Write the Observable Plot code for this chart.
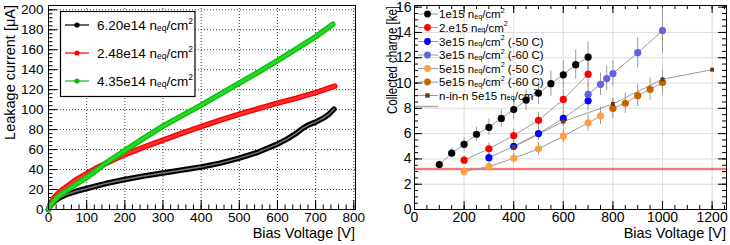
<!DOCTYPE html>
<html><head><meta charset="utf-8">
<script src="https://cdn.jsdelivr.net/npm/d3@7"></script>
<script src="https://cdn.jsdelivr.net/npm/@observablehq/plot@0.6"></script>
<style>
body{margin:0;background:#fff;}
#wrap{display:flex;width:730px;height:245px;}
#wrap svg{display:block;}
</style></head><body><div id="wrap"></div>
<script>
// ---------------- Left panel: leakage current ----------------
const leakXTicks = [0,100,200,300,400,500,600,700,800];
const leakYTicks = [0,20,40,60,80,100,120,140,160,180,200];
const leakBlackV = [0,5,15,30,50,75,100,125,150,175,200,250,300,350,400,450,500,550,600,625,650,665,680,700,720,735,748];
const leakBlackI = [0,4,8,12,15.5,18.5,21,23.5,26,28,30,33.5,36.5,39.5,42.5,46.5,51.5,57.5,65.5,70.5,76.5,81,84.5,87.5,91.5,95.5,100.5];
const leakRedV = [0,5,15,30,50,75,100,125,150,200,250,300,350,400,450,500,550,600,650,700,750];
const leakRedI = [0,6,12,18,23.5,30.5,36,41.5,46,55,62.5,69.5,76.5,83,89.5,95.5,101,106.5,111.5,117,123.5];
const leakGreenV = [0,5,15,30,50,75,100,125,150,200,250,300,350,400,450,500,550,600,650,700,745];
const leakGreenI = [0,4,9,14.5,19.5,26,32,39,46.5,59,71.5,83.5,94,104.5,115.5,126.5,137.5,149,161,173,185.5];
const leakLegend = ["6.20e14", "2.48e14", "4.35e14"];
const leakColors = ["#000000", "#ff0000", "#11bb11"];
const leakInner = ["#777777", "#ff3030", "#22dd22"];

// ---------------- Right panel: collected charge ----------------
const qXTicks = [0,200,400,600,800,1000,1200];
const qYTicks = [0,2,4,6,8,10,12,14,16];
const q1V=[100,150,200,250,300,350,400,450,500,550,600,650,700];
const q1 =[3.55,4.45,5.15,5.95,6.5,7.2,7.9,8.65,9.2,9.95,10.65,11.45,12.05];
const q1E=[0.3,0.4,0.5,0.55,0.65,0.7,0.8,0.85,0.9,1.0,1.1,1.15,1.2];
const q2V=[200,300,400,500,600,700];
const q2 =[3.9,4.8,5.85,7.05,8.7,10.7];
const q2E=[0.35,0.45,0.55,0.65,0.8,1.0];
const q3V=[300,400,500,600,700];
const q3 =[4.1,5.0,6.0,7.2,8.6];
const q3E=[0.35,0.45,0.55,0.65,0.8];
const q4V=[700,750,775,800,900,1000];
const q4 =[9.1,9.9,10.35,10.75,12.4,14.15];
const q4E=[0.85,0.9,0.95,1.0,1.2,1.8];
const q5V=[200,300,400,500,600,700,750];
const q5 =[3.0,3.4,4.05,4.8,5.8,6.85,7.4];
const q5E=[0.3,0.35,0.4,0.5,0.55,0.65,0.7];
const q6V=[800,850,900,950,1000];
const q6 =[8.0,8.4,9.0,9.5,10.05];
const q6E=[0.8,0.8,0.85,0.9,0.95];
const q7V=[400,600,800,1000,1200];
const q7 =[4.95,6.95,8.35,10.3,11.05];
const q7E=[0.25,0.3,0.3,0.3,0.15];
const qThreshold = [3.2];
const qLegendPre = ["1e15", "2.e15", "3e15", "3e15", "5e15", "5e15", "n-in-n 5e15"];
const qLegendPost = ["", "", " (-50 C)", " (-60 C)", " (-50 C)", " (-60 C)", ""];
const qColors = ["#000000","#ff0000","#0000ff","#6262e6","#ffa040","#c86400","#6b3a12"];

const FONT = '"Liberation Sans", Arial, Helvetica, sans-serif';
const W = 365, H = 245;

function rows(V, Y, E) { return V.map((v, i) => ({v, y: Y[i], e: E ? E[i] : 0})); }

function tickMarks(xDom, yDom, m, xMaj, xMin, yMaj, yMin, opp, majLen, minLen) {
  const ux = (xDom[1]-xDom[0])/(W-m.l-m.r), uy = (yDom[1]-yDom[0])/(H-m.t-m.b);
  const out = [];
  const mk = (arr, len, side) => {
    if (side === "b") out.push(Plot.ruleX(arr, {x: d=>d, y1: ()=>yDom[0], y2: ()=>yDom[0]+len*uy, stroke:"#000"}));
    if (side === "t") out.push(Plot.ruleX(arr, {x: d=>d, y1: ()=>yDom[1], y2: ()=>yDom[1]-len*uy, stroke:"#000"}));
    if (side === "l") out.push(Plot.ruleY(arr, {y: d=>d, x1: ()=>xDom[0], x2: ()=>xDom[0]+len*ux, stroke:"#000"}));
    if (side === "r") out.push(Plot.ruleY(arr, {y: d=>d, x1: ()=>xDom[1], x2: ()=>xDom[1]-len*ux, stroke:"#000"}));
  };
  const sides = opp ? [["b","t"],["l","r"]] : [["b"],["l"]];
  for (const s of sides[0]) { mk(xMaj, majLen, s); mk(xMin, minLen, s); }
  for (const s of sides[1]) { mk(yMaj, majLen, s); mk(yMin, minLen, s); }
  return out;
}

function richText(g, x, y, pre, post, fs, fill) {
  const t = g.append("text").attr("x", x).attr("y", y).attr("font-size", fs).attr("text-anchor","start")
    .attr("font-family", FONT).attr("fill", fill || "#000").attr("dominant-baseline","central");
  t.append("tspan").text(pre + " n");
  t.append("tspan").attr("font-size", fs*0.62).attr("dy", fs*0.25).text("eq");
  t.append("tspan").attr("dy", -fs*0.25).text("/cm");
  t.append("tspan").attr("font-size", fs*0.62).attr("dy", -fs*0.3).text("2");
  t.append("tspan").attr("dy", fs*0.3).text(post || "");
}

// ---------- left plot ----------
{
  const xDom=[0,804.5], yDom=[0,204.3];
  const m={t:5,b:36,l:48,r:10};
  const series = [
    rows(leakBlackV, leakBlackI), rows(leakRedV, leakRedI), rows(leakGreenV, leakGreenI)
  ];
  const marks = [
    Plot.ruleX(leakXTicks.filter(d=>d>0), {x:d=>d, stroke:"#000", strokeOpacity:0.75, strokeDasharray:"1,2"}),
    Plot.ruleY(leakYTicks.filter(d=>d>0), {y:d=>d, stroke:"#000", strokeOpacity:0.75, strokeDasharray:"1,2"}),
    ...tickMarks(xDom, yDom, m, leakXTicks, d3.range(0,805,20), leakYTicks, d3.range(0,204,4), false, 9, 4.5)
  ];
  series.forEach((s, i) => {
    marks.push(Plot.line(s, {x:"v", y:"y", stroke:leakColors[i], strokeWidth:5.5, strokeLinecap:"round", strokeLinejoin:"round"}));
    marks.push(Plot.line(s, {x:"v", y:"y", stroke:leakInner[i], strokeWidth:i===0?1.4:2.6, strokeLinecap:"round", strokeLinejoin:"round"}));
  });
  marks.push(Plot.frame({stroke:"#000"}));
  const svg = Plot.plot({
    width:W, height:H, marginTop:m.t, marginBottom:m.b, marginLeft:m.l, marginRight:m.r,
    x:{domain:xDom, ticks:leakXTicks, tickSize:0, tickPadding:3, label:null, tickFormat:d=>String(d)},
    y:{domain:yDom, ticks:leakYTicks, tickSize:0, tickPadding:5, label:null, tickFormat:d=>String(d)},
    style:{fontFamily:FONT, fontSize:"13.5px", color:"#000", background:"#fff"},
    marks
  });
  const g = d3.select(svg);
  g.append("text").attr("transform","translate(15,5) rotate(-90)").attr("text-anchor","end")
    .attr("font-family",FONT).attr("font-size",14.5).text("Leakage current [μA]");
  g.append("text").attr("x",355).attr("y",238).attr("text-anchor","end")
    .attr("font-family",FONT).attr("font-size",14.5).text("Bias Voltage [V]");
  const lg = g.append("g");
  lg.append("rect").attr("x",60.5).attr("y",11.5).attr("width",134.5).attr("height",85)
    .attr("fill","#fff").attr("stroke","#000").attr("stroke-width",1.2);
  const ry = [25, 53, 81];
  leakLegend.forEach((lab, i) => {
    lg.append("line").attr("x1",65).attr("x2",89).attr("y1",ry[i]).attr("y2",ry[i]).attr("stroke",leakColors[i]).attr("stroke-width",1.2);
    lg.append("circle").attr("cx",77).attr("cy",ry[i]).attr("r",2.6).attr("fill",leakColors[i]);
    richText(lg, 97, ry[i], lab, "", 13.5);
  });
  document.getElementById("wrap").appendChild(svg);
}

// ---------- right plot ----------
{
  const xDom=[0,1258], yDom=[0,16.13];
  const m={t:5,b:36,l:49,r:4};
  const S = [
    rows(q1V,q1,q1E), rows(q2V,q2,q2E), rows(q3V,q3,q3E), rows(q4V,q4,q4E),
    rows(q5V,q5,q5E), rows(q6V,q6,q6E), rows(q7V,q7,q7E)
  ];
  const marks = [
    Plot.ruleX(qXTicks.filter(d=>d>0), {x:d=>d, stroke:"#dcdcdc"}),
    Plot.ruleY(qYTicks.filter(d=>d>0 && d<16), {y:d=>d, stroke:"#dcdcdc"}),
    ...tickMarks(xDom, yDom, m, qXTicks, d3.range(0,1258,50), qYTicks, d3.range(0,16.1,0.5), true, 8, 4),
    Plot.ruleY(qThreshold, {y:d=>d, stroke:"#ff0000", strokeOpacity:0.2, strokeWidth:3}),
    Plot.ruleY(qThreshold, {y:d=>d, stroke:"#ff2020", strokeWidth:1})
  ];
  S.forEach((s) => marks.push(Plot.line(s, {x:"v", y:"y", stroke:"#9a9a9a", strokeWidth:1})));
  S.forEach((s) => marks.push(Plot.ruleX(s, {x:"v", y1:d=>d.y-d.e, y2:d=>d.y+d.e, stroke:"#9a9a9a", strokeWidth:1})));
  S.forEach((s, i) => {
    if (i === 6) marks.push(Plot.dot(s, {x:"v", y:"y", symbol:"square", r:2.2, fill:qColors[i]}));
    else marks.push(Plot.dot(s, {x:"v", y:"y", r:3.6, fill:qColors[i]}));
  });
  marks.push(Plot.frame({stroke:"#000"}));
  const svg = Plot.plot({
    width:W, height:H, marginTop:m.t, marginBottom:m.b, marginLeft:m.l, marginRight:m.r,
    x:{domain:xDom, ticks:qXTicks, tickSize:0, tickPadding:3, label:null, tickFormat:d=>String(d)},
    y:{domain:yDom, ticks:qYTicks, tickSize:0, tickPadding:3, label:null, tickFormat:d=>String(d)},
    style:{fontFamily:FONT, fontSize:"14px", color:"#000", background:"#fff"},
    marks
  });
  const g = d3.select(svg);
  g.append("text").attr("transform","translate(32,6) rotate(-90)").attr("text-anchor","end")
    .attr("font-family",FONT).attr("font-size",15).attr("textLength",108).attr("lengthAdjust","spacingAndGlyphs")
    .text("Collected charge [ke]");
  g.append("text").attr("x",361).attr("y",238).attr("text-anchor","end")
    .attr("font-family",FONT).attr("font-size",14.5).text("Bias Voltage [V]");
  const lg = g.append("g");
  const ry = [14, 27.5, 41.5, 55, 68.5, 82, 95.5];
  qLegendPre.forEach((lab, i) => {
    lg.append("line").attr("x1",53).attr("x2",73).attr("y1",ry[i]).attr("y2",ry[i]).attr("stroke","#9a9a9a");
    if (i === 6) lg.append("rect").attr("x",60.3).attr("y",ry[i]-2.2).attr("width",4.4).attr("height",4.4).attr("fill",qColors[i]);
    else lg.append("circle").attr("cx",62.5).attr("cy",ry[i]).attr("r",3.4).attr("fill",qColors[i]);
    richText(lg, 74, ry[i], lab, qLegendPost[i], 11.5);
  });
  lg.append("line").attr("x1",50).attr("x2",73).attr("y1",106.5).attr("y2",106.5).attr("stroke","#aaaaaa").attr("stroke-width",1.5);
  document.getElementById("wrap").appendChild(svg);
}
</script></body></html>
